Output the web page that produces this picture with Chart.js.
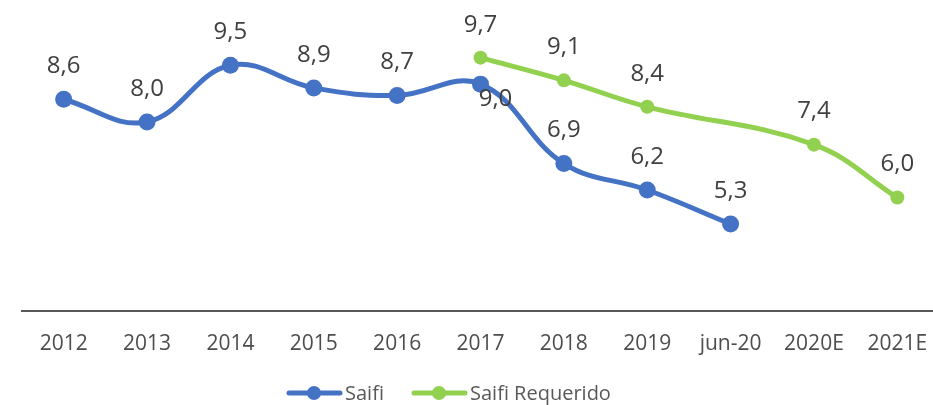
<!DOCTYPE html>
<html>
<head>
<meta charset="utf-8">
<script src="https://cdn.jsdelivr.net/npm/chart.js@4"></script>
<style>
  html, body { margin: 0; padding: 0; background: #ffffff; overflow: hidden; }
  #c { display: block; }
</style>
</head>
<body>
<canvas id="c" width="933" height="405" style="width:933px;height:405px"></canvas>
<script>
const categories = ['2012','2013','2014','2015','2016','2017','2018','2019','jun-20','2020E','2021E'];
const saifi = [8.6, 8.0, 9.5, 8.9, 8.7, 9.0, 6.9, 6.2, 5.3, null, null];
const saifiRequerido = [null, null, null, null, null, 9.7, 9.1, 8.4, null, 7.4, 6.0];
const seriesNames = ['Saifi', 'Saifi Requerido'];

const BLUE = '#4472C4';
const GREEN = '#92D050';
const FONT = "'Open Sans', 'Noto Sans', sans-serif";

function fmt(v) { return v.toFixed(1).replace('.', ','); }

// The original plot area runs slightly past the right edge of the image.
const PLOT_RIGHT = 939;
const extendPlot = {
  id: 'extendPlot',
  afterLayout(chart) {
    const x = chart.scales.x;
    x.right = PLOT_RIGHT;
    x.width = PLOT_RIGHT - x.left;
    chart.chartArea.right = PLOT_RIGHT;
    chart.chartArea.width = PLOT_RIGHT - chart.chartArea.left;
    x.configure();
  }
};

const labelPlugin = {
  id: 'valueLabels',
  afterDatasetsDraw(chart) {
    const ctx = chart.ctx;
    ctx.save();
    ctx.font = '24px ' + FONT;
    ctx.fillStyle = '#404040';
    ctx.textAlign = 'center';
    ctx.textBaseline = 'middle';
    chart.data.datasets.forEach((ds, di) => {
      const meta = chart.getDatasetMeta(di);
      ds.data.forEach((v, i) => {
        if (v === null || v === undefined) return;
        const el = meta.data[i];
        let dx = 0, dy = -33;
        if (di === 0 && i === 5) { dx = 15; dy = 15; }
        ctx.fillText(fmt(v), el.x + dx, el.y + dy);
      });
    });
    ctx.restore();
  }
};

const legendPlugin = {
  id: 'customLegend',
  afterDraw(chart) {
    const ctx = chart.ctx;
    ctx.save();
    const y = 393;
    const items = [
      { name: seriesNames[0], color: BLUE, x: 287, r: 7 },
      { name: seriesNames[1], color: GREEN, x: 412, r: 7 }
    ];
    ctx.font = '20px ' + FONT;
    ctx.textBaseline = 'middle';
    ctx.textAlign = 'left';
    items.forEach(it => {
      ctx.strokeStyle = it.color;
      ctx.lineWidth = 5;
      ctx.lineCap = 'round';
      ctx.beginPath();
      ctx.moveTo(it.x + 2, y);
      ctx.lineTo(it.x + 53, y);
      ctx.stroke();
      ctx.fillStyle = it.color;
      ctx.beginPath();
      ctx.arc(it.x + 27, y, it.r, 0, Math.PI * 2);
      ctx.fill();
      ctx.fillStyle = '#595959';
      ctx.fillText(it.name, it.x + 58, y + 1);
    });
    ctx.restore();
  }
};

new Chart(document.getElementById('c'), {
  type: 'line',
  data: {
    labels: categories,
    datasets: [
      {
        label: seriesNames[0],
        data: saifi,
        borderColor: BLUE,
        backgroundColor: BLUE,
        borderWidth: 5,
        pointRadius: 8.5,
        pointHoverRadius: 8.5,
        pointBorderWidth: 0,
        tension: 0.4,
        spanGaps: false,
        clip: false
      },
      {
        label: seriesNames[1],
        data: saifiRequerido,
        borderColor: GREEN,
        backgroundColor: GREEN,
        borderWidth: 5,
        pointRadius: 7,
        pointHoverRadius: 7,
        pointBorderWidth: 0,
        tension: 0.4,
        spanGaps: true,
        clip: false
      }
    ]
  },
  options: {
    responsive: false,
    maintainAspectRatio: false,
    devicePixelRatio: 1,
    animation: false,
    layout: { padding: { top: 7, left: 22, right: 0, bottom: 0 } },
    plugins: {
      legend: { display: false },
      tooltip: { enabled: false }
    },
    scales: {
      x: {
        offset: true,
        grid: { display: false, drawTicks: false },
        border: { display: true, color: '#595959', width: 2 },
        ticks: {
          color: '#4d4d4d',
          font: { family: FONT, size: 21 },
          padding: 20,
          maxRotation: 0,
          autoSkip: false
        },
        afterFit(scale) { scale.height = 94; }
      },
      y: {
        display: false,
        min: 3,
        max: 11
      }
    }
  },
  plugins: [extendPlot, labelPlugin, legendPlugin]
});
</script>
</body>
</html>
